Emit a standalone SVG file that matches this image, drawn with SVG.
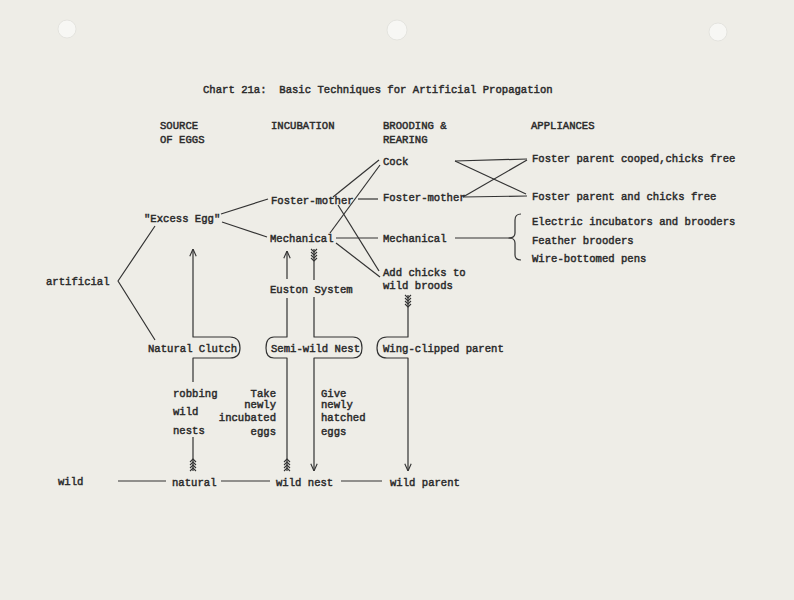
<svg xmlns="http://www.w3.org/2000/svg" width="794" height="600" viewBox="0 0 794 600">
<style>
.t{font-family:"Liberation Mono","DejaVu Sans Mono",monospace;font-size:10.6px;fill:#2a2a2a;stroke:#2a2a2a;stroke-width:0.45;white-space:pre}
.e{text-anchor:end}
.c{fill:none;stroke:#333;stroke-width:1.2;stroke-linejoin:round}
.a{marker-end:url(#arr)}
.f{marker-start:url(#fl)}
</style>
<defs>
<marker id="arr" viewBox="0 0 10 10" refX="10" refY="5" markerWidth="8" markerHeight="8" markerUnits="userSpaceOnUse" orient="auto">
<path d="M1,1 L10,5 L1,9" fill="none" stroke="#333" stroke-width="1.4"/>
</marker>
<marker id="fl" viewBox="-1 -5 15 10" refX="0" refY="0" markerWidth="15" markerHeight="10" markerUnits="userSpaceOnUse" orient="auto">
<path d="M0,-3 L3,0 L0,3 M3,-3 L6,0 L3,3 M6,-3 L9,0 L6,3 M9,-3 L12,0 L9,3" fill="none" stroke="#333" stroke-width="1.1"/>
</marker>
</defs>
<rect width="794" height="600" fill="#eeede7"/>
<g id="holes" fill="#f7f7f4" stroke="#e0e0da" stroke-width="0.8">
<circle cx="67" cy="29" r="9"/>
<circle cx="397" cy="30" r="10"/>
<circle cx="718" cy="32" r="9"/>
</g>
<g id="title"><text class="t" x="203" y="93" xml:space="preserve">Chart 21a:  Basic Techniques for Artificial Propagation</text></g>
<g id="headers">
<text class="t" x="160" y="129">SOURCE</text>
<text class="t" x="160" y="143">OF EGGS</text>
<text class="t" x="271" y="129">INCUBATION</text>
<text class="t" x="383" y="129">BROODING &amp;</text>
<text class="t" x="383" y="143">REARING</text>
<text class="t" x="531" y="129">APPLIANCES</text>
</g>
<g id="connectors">
<path class="c" d="M221,214 L268,199"/>
<path class="c" d="M222,222 L267,237"/>
<path class="c" d="M155,226 L118,281 L155,340"/>
<path class="c" d="M333,197 L379,160"/>
<path class="c" d="M330,233 L380,165"/>
<path class="c" d="M338,205 L379,271"/>
<path class="c" d="M336,243 L380,277"/>
<path class="c" d="M358,199 L378,199"/>
<path class="c" d="M336,238 L378,238"/>
<path class="c" d="M455,238 L511,238"/>
<path class="c" d="M455,161 L527,159"/>
<path class="c" d="M455,161 L526,194"/>
<path class="c" d="M463,197 L527,196"/>
<path class="c" d="M463,197 L527,160"/>
<path class="c" d="M521,214 Q515,214 515,220 L515,233 Q515,238 509,238 Q515,238 515,243 L515,255 Q515,260 521,260"/>
<path class="c f" d="M193,471 L193,437"/>
<path class="c a" d="M193,382 L193,358 L230,358 Q240,358 240,348 Q240,337 230,337 L193,337 L193,249"/>
<path class="c f" d="M287,471 L287,358 L274,358 Q266,358 266,348 Q266,337 274,337 L287,337 L287,298"/>
<path class="c a" d="M287,279 L287,251"/>
<path class="c f" d="M314,249 L314,280"/>
<path class="c a" d="M314,297 L314,337 L353,337 Q362,337 362,348 Q362,358 353,358 L314,358 L314,471"/>
<path class="c f a" d="M408,295 L408,337 L387,337 Q377,337 377,348 Q377,358 387,358 L408,358 L408,471"/>
<path class="c" d="M118,481 L166,481 M221,481 L270,481 M341,481 L382,481"/>
</g>
<g id="n-source-excess"><text class="t" x="144" y="222">"Excess Egg"</text></g>
<g id="n-artificial"><text class="t" x="46" y="285">artificial</text></g>
<g id="n-natural-clutch"><text class="t" x="148" y="352">Natural Clutch</text></g>
<g id="n-robbing"><text class="t" x="173" y="397">robbing</text><text class="t" x="173" y="415">wild</text><text class="t" x="173" y="434">nests</text></g>
<g id="n-inc-foster"><text class="t" x="271" y="204">Foster-mother</text></g>
<g id="n-inc-mech"><text class="t" x="270" y="242">Mechanical</text></g>
<g id="n-euston"><text class="t" x="270" y="293">Euston System</text></g>
<g id="n-semiwild"><text class="t" x="271" y="352">Semi-wild Nest</text></g>
<g id="n-take"><text class="t e" x="276" y="397">Take</text><text class="t e" x="276" y="408">newly</text><text class="t e" x="276" y="421">incubated</text><text class="t e" x="276" y="435">eggs</text></g>
<g id="n-give"><text class="t" x="321" y="397">Give</text><text class="t" x="321" y="408">newly</text><text class="t" x="321" y="421">hatched</text><text class="t" x="321" y="435">eggs</text></g>
<g id="n-cock"><text class="t" x="383" y="165">Cock</text></g>
<g id="n-brood-foster"><text class="t" x="383" y="201">Foster-mother</text></g>
<g id="n-brood-mech"><text class="t" x="383" y="242">Mechanical</text></g>
<g id="n-addchicks"><text class="t" x="383" y="276">Add chicks to</text><text class="t" x="383" y="289">wild broods</text></g>
<g id="n-wingclipped"><text class="t" x="383" y="352">Wing-clipped parent</text></g>
<g id="n-app-cooped"><text class="t" x="532" y="162">Foster parent cooped,chicks free</text></g>
<g id="n-app-free"><text class="t" x="532" y="200">Foster parent and chicks free</text></g>
<g id="n-app-mech"><text class="t" x="532" y="225">Electric incubators and brooders</text><text class="t" x="532" y="244">Feather brooders</text><text class="t" x="532" y="262">Wire-bottomed pens</text></g>
<g id="n-wild"><text class="t" x="58" y="485">wild</text></g>
<g id="n-natural"><text class="t" x="172" y="486">natural</text></g>
<g id="n-wildnest"><text class="t" x="276" y="486">wild nest</text></g>
<g id="n-wildparent"><text class="t" x="390" y="486">wild parent</text></g>
</svg>
